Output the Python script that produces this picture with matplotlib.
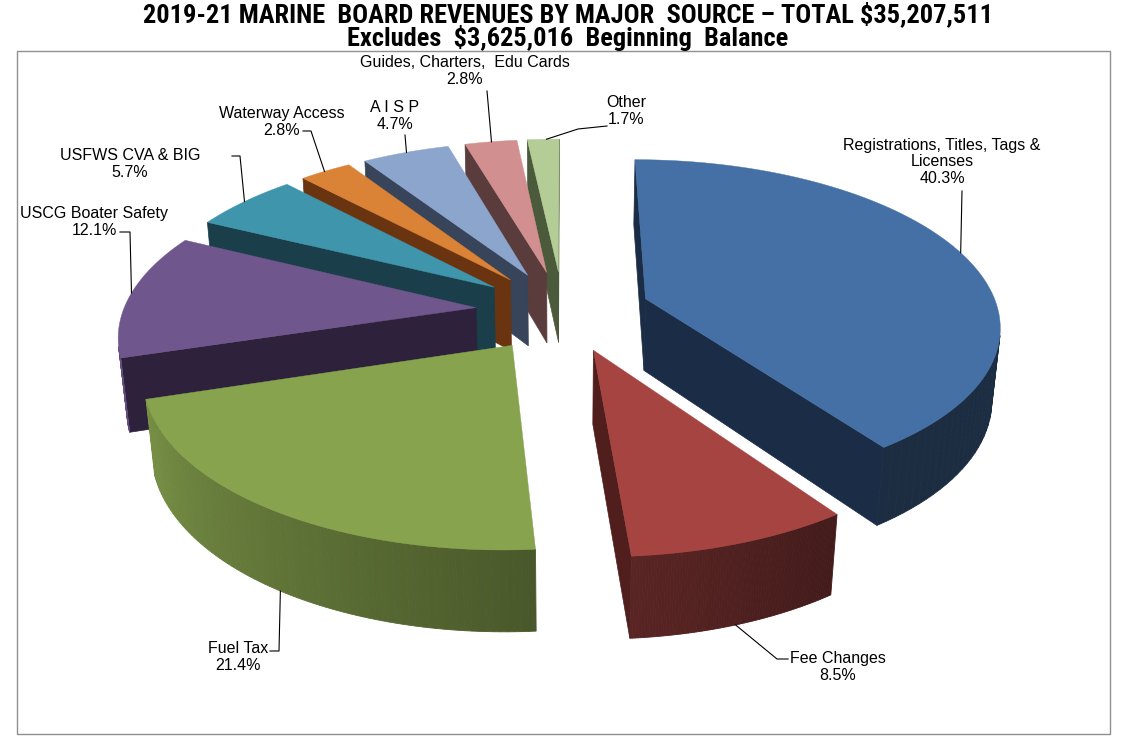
import numpy as np
import matplotlib.pyplot as plt
from matplotlib import font_manager
from matplotlib.patches import Polygon, Rectangle

# данные диаграммы
labels = ["Registrations, Titles, Tags &\nLicenses", "Fee Changes", "Fuel Tax",
          "USCG Boater Safety", "USFWS CVA & BIG", "Waterway Access", "A I S P",
          "Guides, Charters,  Edu Cards", "Other"]
values = [40.3, 8.5, 21.4, 12.1, 5.7, 2.8, 4.7, 2.8, 1.7]
pct_labels = ["40.3%", "8.5%", "21.4%", "12.1%", "5.7%", "2.8%", "4.7%", "2.8%", "1.7%"]
top_colors = ["#4570A6", "#A64442", "#87A34E", "#6F568C", "#3F95AB",
              "#DA8236", "#8CA5CD", "#D1908F", "#B4CC96"]
side_colors = ["#1B2D46", "#501E1C", "#87A34E", "#2D213C", "#1A3E4A",
               "#6A3410", "#37445A", "#5A3C3C", "#4A5A3A"]

title1 = "2019-21 MARINE  BOARD REVENUES BY MAJOR  SOURCE \u2013 TOTAL $35,207,511"
title2 = "Excludes  $3,625,016  Beginning  Balance"

# параметры "камеры" (псевдо-3D)
cx, cy = 563, 383
S = 346.0
elev = np.radians(29.5)
D = 6.0
h = 0.235
E = 0.248
cam = np.array([0.0, -D * np.cos(elev), D * np.sin(elev)])


def proj(x, y, z):
    dist = D + y * np.cos(elev) - z * np.sin(elev)
    k = D / dist
    v = y * np.sin(elev) + z * np.cos(elev)
    return cx + S * x * k, cy - S * v * k


def visible(p, n):
    return np.dot(n, cam - p) > 0


def shade(color, f):
    c = np.array(plt.matplotlib.colors.to_rgb(color))
    return tuple(np.clip(c * f, 0, 1))


fig = plt.figure(figsize=(11.25, 7.39), dpi=100)
ax = fig.add_axes([0, 0, 1, 1])
ax.set_xlim(0, 1125)
ax.set_ylim(739, 0)
ax.axis("off")

ax.add_patch(Rectangle((17, 51), 1093, 683, fill=False, ec="#909090", lw=1.0))

# углы секторов: начиная с 90 градусов, по часовой стрелке
cum = np.concatenate([[0], np.cumsum(values)]) / sum(values) * 360
slices = []
for i, v in enumerate(values):
    a_hi = 90 - cum[i]
    a_lo = 90 - cum[i + 1]
    mid = np.radians((a_lo + a_hi) / 2)
    off = E * np.array([np.cos(mid), np.sin(mid)])
    cen = np.array([off[0] + 0.5 * np.cos(mid), off[1] + 0.5 * np.sin(mid), h / 2])
    depth = np.linalg.norm(cam - cen)
    slices.append((depth, i, a_lo, a_hi, off))

order = sorted(slices, key=lambda s: -s[0])

for depth, i, a_lo, a_hi, off in order:
    th = np.radians(np.linspace(a_lo, a_hi, 80))
    ox, oy = off
    side = side_colors[i]
    # боковые радиальные стенки
    for a, sgn in ((np.radians(a_hi), 1), (np.radians(a_lo), -1)):
        n = np.array([np.cos(a + sgn * np.pi / 2), np.sin(a + sgn * np.pi / 2), 0])
        p = np.array([ox + 0.5 * np.cos(a), oy + 0.5 * np.sin(a), h / 2])
        if visible(p, n):
            pts = [proj(ox, oy, 0), proj(ox, oy, h),
                   proj(ox + np.cos(a), oy + np.sin(a), h),
                   proj(ox + np.cos(a), oy + np.sin(a), 0)]
            ax.add_patch(Polygon(pts, closed=True, fc=side, ec=side, lw=0.5))
    # внешняя стенка
    for j in range(len(th) - 1):
        tm = (th[j] + th[j + 1]) / 2
        n = np.array([np.cos(tm), np.sin(tm), 0])
        p = np.array([ox + np.cos(tm), oy + np.sin(tm), h / 2])
        if not visible(p, n):
            continue
        deg = (np.degrees(tm) + 180) % 360 - 180
        f = 0.4 + 0.5 * np.clip((-55 - deg) / 110, 0, 1)
        col = shade(top_colors[i], f)
        pts = [proj(ox + np.cos(th[j]), oy + np.sin(th[j]), h),
               proj(ox + np.cos(th[j + 1]), oy + np.sin(th[j + 1]), h),
               proj(ox + np.cos(th[j + 1]), oy + np.sin(th[j + 1]), 0),
               proj(ox + np.cos(th[j]), oy + np.sin(th[j]), 0)]
        ax.add_patch(Polygon(pts, closed=True, fc=col, ec=col, lw=0.6))
    # верхняя грань
    pts = [proj(ox, oy, h)] + [proj(ox + np.cos(t), oy + np.sin(t), h) for t in th]
    ax.add_patch(Polygon(pts, closed=True, fc=top_colors[i], ec=top_colors[i], lw=0.3))


def rim_point(s, target_x, z, upper):
    '''точка на краю сектора с нужной экранной координатой x'''
    depth, i, a_lo, a_hi, off = s
    th = np.radians(np.linspace(a_lo, a_hi, 2000))
    px, py = proj(off[0] + np.cos(th), off[1] + np.sin(th), z * h)
    near = np.abs(px - target_x) < 1.5
    if not near.any():
        j = np.argmin(np.abs(px - target_x))
        return px[j], py[j]
    ys = py[near]
    xs = px[near]
    j = np.argmin(ys) if upper else np.argmax(ys)
    return xs[j], ys[j]


# подписи: центр текста, начало выноски, излом, x точки на секторе, высота, верх/низ
text_pos = [(942, 162), (838, 667), (238, 657), (94, 222), (130, 164),
            (282, 122), (395, 116), (465, 71), (626, 111)]
lead_start = [(962, 191), (788, 659), (270, 651), (120, 232), (232, 156),
              (303, 131), (405, 135), (487, 91), (607, 126)]
lead_knee = [(962, 191), (777, 659), (279, 651), (130, 232), (240, 156),
             (311, 131), (405, 135), (487, 91), (578, 129)]
anchor_x = [962, 737, 279, 130, 243, 323, 405, 490, 545]
anchor_z = [1.0, 0.0, 0.0, 1.0, 1.0, 1.0, 1.0, 1.0, 1.0]
anchor_up = [True, False, False, True, True, True, True, True, True]

font = ["Liberation Sans", "DejaVu Sans"]
for s in sorted(slices, key=lambda s: s[1]):
    i = s[1]
    end = rim_point(s, anchor_x[i], anchor_z[i], anchor_up[i])
    xs = [lead_start[i][0], lead_knee[i][0], end[0]]
    ys = [lead_start[i][1], lead_knee[i][1], end[1]]
    ax.plot(xs, ys, color="black", lw=0.8)
    ax.text(text_pos[i][0], text_pos[i][1], labels[i] + "\n" + pct_labels[i],
            ha="center", va="center", fontsize=11.5, family=font,
            linespacing=1.12, color="black")

# заголовок: узкий жирный шрифт, если он есть
names = {f.name for f in font_manager.fontManager.ttflist}
title_family = "Liberation Sans"
for cand in ["Liberation Sans Narrow", "Arial Narrow", "DejaVu Sans Condensed", "Roboto Condensed"]:
    if cand in names:
        title_family = cand
        break

fig.canvas.draw()
renderer = fig.canvas.get_renderer()
t1 = ax.text(568, 14, title1, ha="center", va="center", fontsize=15,
             fontweight="bold", family=[title_family, "DejaVu Sans"])
t2 = ax.text(568, 38, title2, ha="center", va="center", fontsize=15,
             fontweight="bold", family=[title_family, "DejaVu Sans"])
# подгоняем размер под ширину заголовка в оригинале
w = t1.get_window_extent(renderer).width
if w > 0:
    size = 15 * 853 / w
    t1.set_fontsize(size)
    t2.set_fontsize(size)

fig.savefig("out.png", dpi=100)
